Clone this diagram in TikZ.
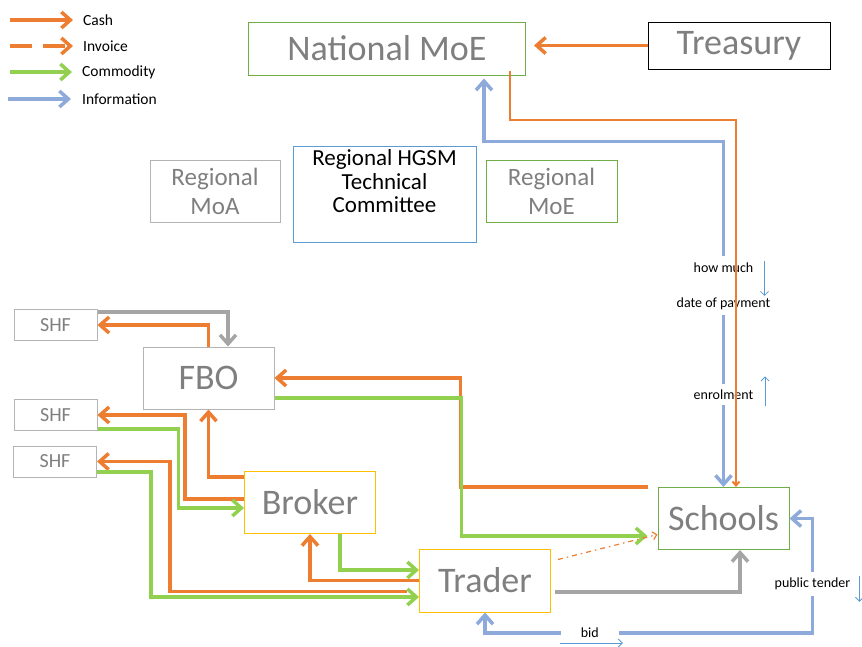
\documentclass[tikz,border=0pt]{standalone}
\usepackage{fontspec}
\setmainfont{Carlito}
\usetikzlibrary{arrows.meta}
\definecolor{cashc}{HTML}{ED7D31}
\definecolor{goodsc}{HTML}{92D050}
\definecolor{infoc}{HTML}{8EAADB}
\definecolor{grayc}{HTML}{A5A5A5}
\definecolor{textc}{HTML}{7F7F7F}
\definecolor{boxgreen}{HTML}{70AD47}
\definecolor{boxgray}{HTML}{B4B4B4}
\definecolor{boxblue}{HTML}{5B9BD5}
\definecolor{boxgold}{HTML}{FFC000}
\begin{document}
\begin{tikzpicture}[x=1pt, y=-1pt,
    >={Straight Barb[length=9pt,width=16pt]},
    box/.style={draw, line width=1pt, inner sep=0pt, minimum width=131pt, minimum height=62pt, text=textc},
    big/.style={font=\fontsize{36}{36}\selectfont},
    key/.style={anchor=west, inner sep=2pt, font=\fontsize{15.5}{16}\selectfont},
    cash/.style={cashc, line width=3.5pt},
    goods/.style={goodsc, line width=3.5pt},
    info/.style={infoc, line width=3.5pt},
    gry/.style={grayc, line width=3.5pt},
    tag/.style={fill=white, text=black, inner xsep=2pt, inner ysep=6pt, font=\fontsize{14}{35}\selectfont, align=center},
    hint/.style={boxblue, line width=0.8pt, -{Straight Barb[length=4pt,width=8pt]}}]
    \useasboundingbox (0,0) rectangle (862,646);

    \node[key] (lcash) at (81,20) {Cash};
    \node[key] (linv) at (81,46) {Invoice};
    \node[key] (lgoods) at (80,72) {Commodity};
    \node[key] (linfo) at (80,99) {Information};
    \draw[cash,->] ([xshift=-71pt]lcash.west) -- ([xshift=-8pt]lcash.west);
    \draw[cash,->,dash pattern=on 22pt off 11pt] ([xshift=-71pt]linv.west) -- ([xshift=-8pt]linv.west);
    \draw[goods,->] ([xshift=-70pt]lgoods.west) -- ([xshift=-8pt]lgoods.west);
    \draw[info,->] ([xshift=-72pt]linfo.west) -- ([xshift=-9pt]linfo.west);

    \node[box, draw=boxgreen, minimum width=277pt, minimum height=53pt, big] (nat) at (387,48.5) {National MoE};
    \node[box, draw=black, minimum width=182pt, minimum height=47pt, big] (tre) at (739,45.5) {Treasury};
    \node[box, draw=boxgray, minimum width=130pt, align=center, font=\fontsize{25}{29}\selectfont] (moa) at (215,191) {Regional\\MoA};
    \node[box, draw=boxblue, minimum width=183pt, minimum height=96pt] (hgsm) at (384.5,194) {};
    \node[anchor=north, align=center, inner sep=0pt, font=\fontsize{23}{23.5}\selectfont] (hgsmtext) at ([yshift=-4pt]hgsm.north) {Regional HGSM\\Technical\\Committee};
    \node[box, draw=boxgreen, align=center, font=\fontsize{25}{29}\selectfont] (rmoe) at (551.5,191) {Regional\\MoE};

    \node[box, draw=boxgray, minimum width=83pt, minimum height=31pt, font=\fontsize{20}{20}\selectfont] (shfa) at (55.5,325) {SHF};
    \node[box, draw=boxgray, minimum width=83pt, minimum height=31pt, font=\fontsize{20}{20}\selectfont] (shfb) at (55.5,415) {SHF};
    \node[box, draw=boxgray, minimum width=83pt, minimum height=31pt, font=\fontsize{20}{20}\selectfont] (shfc) at (55,461.5) {SHF};
    \node[box, draw=boxgray, big] (fbo) at (208.5,378) {FBO};
    \node[box, draw=boxgold, big] (broker) at (310,502.5) {Broker};
    \node[box, draw=boxgold, minimum height=63pt, big] (trader) at (485,580.5) {Trader};
    \node[box, draw=boxgreen, big] (schools) at (723.5,518.5) {Schools};

    \draw[cash,->] (tre.west) -- ([xshift=8pt]tre.west -| nat.east);
    \draw[info,<->] ([xshift=97pt,yshift=-3pt]nat.south) -- ++(0,63) -| (schools.north)
        node[tag,pos=0.709] (paytag) {how much\\date of payment}
        node[tag,pos=0.866] (enrol) {enrolment};
    \draw[cashc, line width=2pt, -{Straight Barb[length=4pt,width=7pt]}] ([xshift=-16.5pt,yshift=5pt]nat.south east) -- ++(0,49) -| ([xshift=12.5pt]schools.north);
    \draw[hint] ([xshift=41pt,yshift=25pt]paytag.center) -- ++(0,35);
    \draw[hint] ([xshift=8pt,yshift=-12pt]enrol.east) -- ++(0,-30);

    \draw[gry,->] ([yshift=13pt]shfa.east) -| ([xshift=19.5pt]fbo.north);
    \draw[cash,->] (fbo.north) |- (shfa.east);
    \draw[cash,->] ([xshift=-10pt]schools.north west) -- ++(-187,0) |- (fbo.east);
    \draw[goods,->] ([yshift=-20pt]fbo.east) -- ++(187,0) |- ([xshift=-10pt,yshift=-17.5pt]schools.west);

    \draw[cash,->] ([yshift=-6pt]broker.north west) -| (fbo.south);
    \draw[cash,->] ([yshift=-28pt]broker.north west) -- ++(-59,0) |- (shfb.east);
    \draw[goods,->] ([yshift=-14pt]shfb.east) -- ++(81,0) |- ([yshift=-5.5pt]broker.west);

    \draw[cash,->] ([xshift=-12pt,yshift=-11pt]trader.west) -- ++(-237,0) |- (shfc.east);
    \draw[goods,->] ([yshift=-10.5pt]shfc.east) -- ++(54,0) |- ([yshift=-16.5pt]trader.west);
    \draw[cash,->] (trader.west) -| (broker.south);
    \draw[goods,->] ([xshift=30pt]broker.south) |- ([yshift=10.5pt]trader.west);

    \draw[gry,->] ([xshift=4pt,yshift=-11.5pt]trader.east) -| ([xshift=16.5pt]schools.south);
    \draw[cashc, line width=1.2pt, dash pattern=on 5pt off 4pt on 1.5pt off 4pt, -{Straight Barb[length=4pt,width=8pt]}] ([xshift=7pt,yshift=-11pt]trader.north east) -- ([yshift=-16pt]schools.west);
    \draw[info,<->] (schools.east) -- ++(23,0) -- ++(0,114.5)
        node[tag,pos=0.57] (tender) {public tender}
        -- ++(-327.5,0) node[tag,pos=0.68,minimum width=58pt] (bid) {bid} -- (trader.south);
    \draw[hint] ([xshift=-30pt,yshift=-10pt]bid.center) -- ++(63,0);
    \draw[hint] ([xshift=47pt,yshift=8pt]tender.center) -- ++(0,26);
\end{tikzpicture}
\end{document}
